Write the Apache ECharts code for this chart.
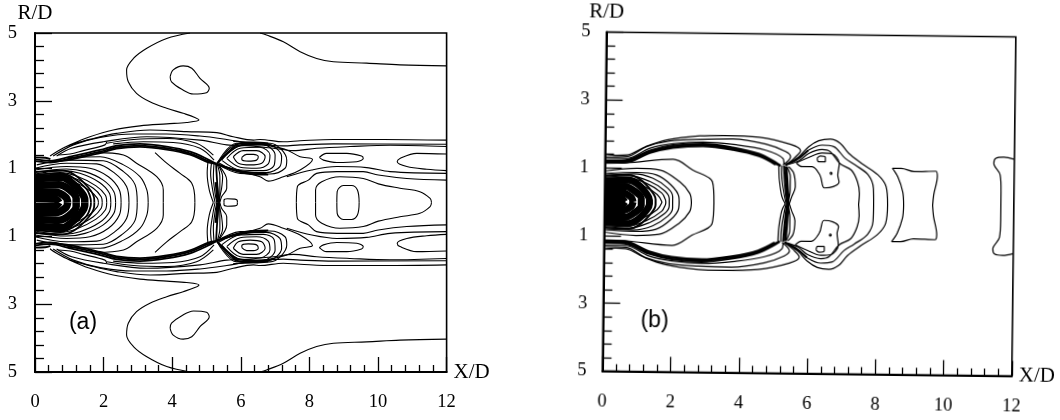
<!DOCTYPE html>
<html><head><meta charset="utf-8">
<script src="https://cdn.jsdelivr.net/npm/echarts@6/dist/echarts.min.js"></script>
<style>html,body{margin:0;padding:0;background:#fff;overflow:hidden}
#a{position:absolute;left:0;top:0;width:530px;height:420px}
#b{position:absolute;left:530px;top:0;width:530px;height:420px;transform-origin:281px 204px;transform:rotate(0.68deg)}
</style></head><body><div id="a"></div><div id="b"></div>
<script>
const xTicksNote = 'X/D', yTicksNote = 'R/D';
// Each contour: upper half [X/D, R/D]; lower half of the plot is the mirror image.
const leftThin = [
 [[6.56,5],[6.75,4.94],[7.24,4.74],[7.73,4.45],[8.21,4.25],[8.70,4.15],[9.67,4.11],[10.64,4.06],[12,4.03]],
 [[4.52,5],[3.84,4.84],[3.26,4.55],[2.87,4.25],[2.67,3.91],[2.72,3.56],[2.96,3.22],[3.35,2.97],[3.84,2.78],[4.32,2.63],[4.66,2.51],[4.78,2.43],[4.42,2.36],[3.84,2.32],[3.06,2.26],[2.28,2.14],[1.60,1.94],[1.02,1.70],[0.63,1.50],[0.44,1.37],[0.92,1.65],[1.70,1.89],[2.38,2.04],[3.35,2.14],[4.42,2.09],[5.30,2.06],[5.78,1.94],[6.37,1.84],[6.56,1.86],[7.24,1.79],[7.73,1.82],[8.70,1.86],[10.16,1.86],[12,1.84]],
 [[3.94,3.71],[4.03,3.91],[4.32,4.03],[4.57,3.96],[4.81,3.66],[5.08,3.37],[5.00,3.24],[4.62,3.20],[4.28,3.34],[3.98,3.56],[3.94,3.71]],
 [[0.53,1.37],[1.12,1.70],[1.90,1.92],[2.87,2.02],[3.84,2.02],[4.81,1.96],[5.59,1.86],[6.27,1.75],[7.24,1.67],[7.73,1.70],[8.70,1.73],[12,1.72]],
 [[0.63,1.37],[1.07,1.60],[1.99,1.79],[3.26,1.94],[4.81,1.84],[5.59,1.70],[6.27,1.67],[6.95,1.60],[7.53,1.53],[8.21,1.60],[9.18,1.65],[10.35,1.69],[12,1.65]],
 [[0.68,1.40],[1.02,1.43],[1.41,1.53],[2.04,1.70],[2.09,1.79]],
 [[2.09,1.75],[2.87,1.86],[3.84,1.89],[4.71,1.75],[5.20,1.40]],
 [[2.28,1.73],[3.16,1.79],[4.03,1.77],[4.81,1.60],[5.22,1.25]],
 [[3.50,1.47],[3.84,1.16],[4.23,0.86],[4.57,0.57],[4.66,0.07],[4.66,0]],
 [[1.80,1.47],[2.58,1.40],[2.96,1.16],[3.55,0.76],[3.74,0.37],[3.74,0]],
 [[0.92,1.32],[1.90,1.35],[2.58,1.11],[3.06,0.76],[3.26,0.37],[3.30,0]],
 [[0.05,1.11],[0.92,1.25],[1.99,1.23],[2.58,0.91],[2.92,0.52],[2.98,0]],
 [[0,1.01],[0.92,1.16],[1.80,1.14],[2.33,0.86],[2.67,0.47],[2.74,0]],
 [[0,0.96],[0.92,1.06],[1.60,1.01],[2.14,0.76],[2.46,0.37],[2.51,0]],
 [[0,0.89],[0.92,0.99],[1.46,0.91],[1.99,0.66],[2.30,0.32],[2.35,0]],
 [[0,0.84],[0.83,0.94],[1.31,0.86],[1.88,0.59],[2.17,0.27],[2.21,0]],
 [[0,0.78],[0.73,0.88],[1.21,0.78],[1.78,0.49],[2.05,0.22],[2.09,0]],
 [[0,0.73],[0.63,0.81],[1.17,0.71],[1.70,0.42],[1.93,0.17],[1.96,0]],
 [[0,0.66],[0.53,0.74],[1.12,0.61],[1.60,0.35],[1.82,0.12],[1.85,0]],
 [[5.05,1.27],[5.02,0.86],[5.08,0.37],[5.20,0]],
 [[5.15,1.20],[5.12,0.86],[5.18,0.37],[5.25,0]],
 [[5.22,1.16],[5.20,0.76],[5.25,0.27],[5.30,0]],
 [[5.32,1.11],[5.39,0.76],[5.39,0.37],[5.37,0]],
 [[5.34,1.11],[5.47,0.76],[5.44,0.42],[5.39,0.17],[5.37,0]],
 [[5.39,1.06],[5.59,0.66],[5.59,0.42],[5.44,0.17],[5.39,0]],
 [[5.51,0],[5.51,0.07],[5.61,0.11],[5.83,0.10],[5.90,0.05],[5.90,0]],
 [[6.03,1.33],[6.17,1.42],[6.37,1.42],[6.51,1.35],[6.46,1.25],[6.22,1.22],[6.03,1.27],[6.03,1.33]],
 [[5.78,1.35],[6.07,1.53],[6.46,1.53],[6.71,1.35],[6.61,1.16],[6.27,1.11],[5.93,1.16],[5.78,1.35]],
 [[5.59,1.30],[5.98,1.60],[6.56,1.63],[6.85,1.40],[6.80,1.14],[6.46,1.01],[5.98,1.04],[5.59,1.30]],
 [[5.44,1.25],[5.98,1.67],[6.66,1.70],[7.00,1.40],[6.97,1.09],[6.66,0.94],[5.98,0.96],[5.44,1.25]],
 [[5.34,1.18],[5.93,1.73],[6.75,1.73],[7.19,1.35],[7.14,1.06],[6.75,0.88],[5.98,0.91],[5.34,1.18]],
 [[5.30,1.14],[5.88,1.75],[6.85,1.75],[7.34,1.25],[7.29,1.01],[6.85,0.84],[5.98,0.86],[5.30,1.14]],
 [[5.30,1.11],[6.56,0.76],[6.80,0.63],[7.24,0.76],[7.73,0.96],[8.09,1.27],[7.73,1.35],[7.34,1.55],[6.85,1.67],[6.37,1.77],[5.78,1.80]],
 [[8.29,1.33],[8.50,1.45],[9.09,1.45],[9.52,1.37],[9.57,1.30],[9.38,1.20],[8.80,1.18],[8.41,1.25],[8.29,1.33]],
 [[12,1.43],[11.13,1.45],[10.64,1.30],[10.56,1.20],[10.84,1.06],[11.42,0.98],[12,0.94]],
 [[7.34,0.76],[8.07,0.96],[8.80,1.06],[9.67,1.03],[10.35,0.91],[12,0.86]],
 [[7.62,0],[7.65,0.47],[7.97,0.66],[8.21,0.86],[8.80,0.91],[9.57,0.91],[10.01,0.81],[10.84,0.71],[12,0.66]],
 [[8.18,0],[8.18,0.37],[8.36,0.61],[8.89,0.76],[9.57,0.71],[10.01,0.55],[10.64,0.42],[11.22,0.32],[11.52,0.12],[11.56,0]],
 [[8.80,0],[8.81,0.32],[8.99,0.50],[9.23,0.50],[9.40,0.37],[9.45,0]]
];
const leftThick = [
 [[0,1.33],[0.30,1.32],[0.45,1.28]],
 [[0,1.27],[0.44,1.23],[1.02,1.35],[1.90,1.55],[2.38,1.68],[3.06,1.73],[3.84,1.65],[4.52,1.50],[5.05,1.27],[5.28,1.14]],
 [[0,1.22],[0.44,1.18],[1.02,1.30],[1.90,1.50],[2.38,1.63],[3.06,1.68],[3.84,1.60],[4.52,1.45],[5.05,1.22],[5.28,1.14]],
 [[0.5,1.20],[1.02,1.26],[1.90,1.46],[2.38,1.59],[3.06,1.64],[3.84,1.56],[4.52,1.41],[5.05,1.18],[5.28,1.14]],
 [[5.28,1.14],[5.30,0.76],[5.33,0.32],[5.35,0]],
 [[5.3,1.14],[5.6,1.45],[5.95,1.68],[6.4,1.72],[6.85,1.70]],
 [[5.3,1.14],[5.65,1.5],[5.95,1.74],[6.4,1.77],[6.8,1.74]],
 [[5.3,1.14],[5.8,0.95],[6.3,0.84],[6.8,0.82]],
 [[5.32,1.12],[5.8,0.98],[6.3,0.88],[6.75,0.86]],
 [[0,0.90],[0.80,0.94],[1.15,0.82],[1.55,0.45],[1.72,0.15],[1.73,0]],
 [[0,0.82],[0.75,0.86],[1.10,0.74],[1.50,0.40],[1.62,0.12],[1.63,0]]
];
const leftDense = [
 [[5.28,0.60],[5.31,0.30],[5.33,0]],
 [[0,0.70],[0.80,0.74],[1.05,0.60],[1.35,0.30],[1.45,0.08],[1.45,0]],
 [[0,0.50],[0.70,0.52],[1.00,0.38],[1.20,0.12],[1.20,0]],
 [[0,0.30],[0.60,0.30],[0.90,0.15],[0.95,0]],
 [[0,0.12],[0.60,0.10],[0.70,0]]
];
const rightThin = [
 [[0,1.40],[0.35,1.37],[0.64,1.38],[1.18,1.63],[1.81,1.84],[2.78,1.97],[3.45,1.99],[4.52,1.95],[5.44,1.75],[5.73,1.57],[5.54,1.34],[5.29,1.14]],
 [[0,1.32],[0.64,1.34],[1.23,1.64],[1.90,1.81],[2.78,1.87],[3.75,1.89],[4.71,1.75],[5.29,1.54],[5.44,1.39],[5.22,1.14]],
 [[0,1.29],[0.64,1.29],[1.32,1.59],[1.99,1.73],[2.87,1.79],[3.84,1.72],[4.71,1.57],[5.22,1.33],[5.25,1.14]],
 [[0,1.13],[0.64,1.15],[2.0,1.27],[2.58,0.96],[3.16,0.62],[3.21,0]],
 [[0,0.90],[0.94,0.99],[1.61,0.95],[2.2,0.61],[2.5,0.27],[2.55,0]],
 [[0,0.83],[0.94,0.87],[1.52,0.80],[1.95,0.51],[2.18,0.17],[2.19,0]],
 [[0,0.78],[0.85,0.83],[1.42,0.70],[1.86,0.41],[2.0,0.17],[2.0,0]],
 [[0,0.73],[0.74,0.77],[1.32,0.61],[1.76,0.34],[1.90,0.11],[1.90,0]],
 [[0,0.68],[0.65,0.72],[1.23,0.55],[1.68,0.27],[1.79,0.07],[1.80,0]],
 [[0,0.62],[0.6,0.66],[1.14,0.47],[1.55,0.22],[1.69,0]],
 [[5.10,1.12],[5.12,0.70],[5.2,0.21],[5.3,0]],
 [[5.18,1.12],[5.2,0.70],[5.28,0.21],[5.33,0]],
 [[5.34,1.09],[5.44,0.80],[5.44,0.40],[5.37,0]],
 [[5.39,1.09],[5.54,0.90],[5.59,0.50],[5.49,0.21],[5.42,0]],
 [[5.29,1.14],[5.68,1.39],[5.97,1.69],[6.26,1.87],[6.60,1.92],[6.89,1.80],[7.14,1.51],[7.52,1.22],[8.01,0.88],[8.25,0.54],[8.30,0]],
 [[5.29,1.14],[5.68,1.34],[5.97,1.59],[6.36,1.74],[6.70,1.70],[7.04,1.36],[7.33,1.17],[7.72,0.88],[7.88,0.48],[7.89,0]],
 [[5.29,1.14],[5.68,1.27],[5.97,1.49],[6.36,1.61],[6.60,1.55],[6.89,1.20],[7.23,1.01],[7.41,0.67],[7.47,0.33],[7.45,0]],
 [[5.61,1.21],[5.78,1.10],[6.07,1.10],[6.31,0.85],[6.44,0.48],[6.70,0.52],[6.87,0.66],[6.83,0.86],[6.87,1.20],[6.65,1.49],[6.36,1.51],[5.97,1.37],[5.61,1.21]],
 [[6.22,1.35],[6.31,1.42],[6.46,1.38],[6.46,1.25],[6.26,1.25],[6.22,1.35]],
 [[6.60,0.91],[6.63,0.94],[6.66,0.91],[6.63,0.88],[6.60,0.91]],
 [[8.77,0],[8.74,0.39],[8.59,0.83],[8.43,1.08],[8.69,1.08],[9.07,0.99],[9.70,1.01],[9.75,0.86],[9.65,0.32],[9.62,0]],
 [[12,1.39],[11.69,1.45],[11.45,1.41],[11.40,1.26],[11.59,0.92],[11.62,0.43],[11.62,0]]
];
const rightThick = [
 [[0,1.22],[0.6,1.23],[1.32,1.52],[1.99,1.68],[2.87,1.74],[3.75,1.64],[4.52,1.46],[5.0,1.22],[5.15,1.12]],
 [[0,1.18],[0.6,1.19],[1.32,1.48],[1.99,1.64],[2.87,1.70],[3.75,1.60],[4.52,1.42],[5.0,1.18],[5.15,1.12]],
 [[0,1.15],[0.6,1.16],[1.32,1.45],[1.99,1.61],[2.87,1.67],[3.75,1.57],[4.52,1.39],[5.0,1.15]],
 [[5.25,1.12],[5.28,0.70],[5.33,0.21],[5.37,0]],
 [[5.29,1.14],[5.65,1.33],[5.95,1.58]],
 [[0,0.77],[0.70,0.80],[1.05,0.66],[1.38,0.32],[1.50,0.08],[1.50,0]]
];
const rightDense = [
 [[5.31,1.10],[5.34,0.70],[5.37,0.21],[5.38,0]],
 [[0,0.62],[0.70,0.64],[1.00,0.50],[1.25,0.22],[1.32,0.06],[1.32,0]],
 [[0,0.44],[0.60,0.46],[0.88,0.32],[1.08,0.10],[1.08,0]],
 [[0,0.27],[0.50,0.27],[0.78,0.14],[0.84,0]],
 [[0,0.10],[0.50,0.09],[0.60,0]]
];
const xLabelStep = 2, yLabelStep = 2, minorParts = 5;
const INK = '#000';

function seriesOf(groups) {
  const out = [];
  groups.forEach(([list, width]) => list.forEach((c, i) => [1, -1].forEach(s => out.push({
    type: 'line', silent: true, showSymbol: false, symbol: 'none', smooth: 0.35, clip: true,
    animation: false, lineStyle: { color: INK, width: (width > 3 && i === 0) ? 3 : width },
    data: c.map(p => [p[0], 5 + s * p[1]])
  }))));
  return out;
}
function panel(el, gridBox, groups, tag, tagPos, yMargin) {
  const chart = echarts.init(document.getElementById(el), null, { renderer: 'canvas' });
  const font = { fontFamily: 'Liberation Serif', color: INK, fontSize: 18.5 };
  chart.setOption({
    animation: false, backgroundColor: 'transparent',
    grid: Object.assign({ show: true, borderColor: INK, borderWidth: 1.6, containLabel: false }, gridBox),
    xAxis: {
      type: 'value', min: 0, max: 12, interval: xLabelStep, name: xTicksNote, nameLocation: 'end', nameGap: 7,
      nameTextStyle: Object.assign({}, font, { fontSize: 21, padding: [0, 0, 12, 0] }),
      axisLine: { show: true, onZero: false, lineStyle: { color: INK, width: 2 } },
      axisTick: { inside: true, length: 15, lineStyle: { color: INK, width: 1.3 } },
      minorTick: { show: true, splitNumber: minorParts, length: 7, lineStyle: { color: INK, width: 1.3 } },
      splitLine: { show: false }, minorSplitLine: { show: false },
      axisLabel: Object.assign({ margin: 21, showMinLabel: true, showMaxLabel: true }, font)
    },
    yAxis: {
      type: 'value', min: 0, max: 10, interval: yLabelStep, name: yTicksNote, nameLocation: 'end', nameGap: 4,
      nameTextStyle: Object.assign({}, font, { fontSize: 21 }),
      axisLine: { show: true, onZero: false, lineStyle: { color: INK, width: 2 } },
      axisTick: { inside: true, length: 17, lineStyle: { color: INK, width: 1.3 } },
      minorTick: { show: true, splitNumber: minorParts, length: 9, lineStyle: { color: INK, width: 1.3 } },
      splitLine: { show: false }, minorSplitLine: { show: false },
      axisLabel: Object.assign({ margin: yMargin, showMinLabel: true, showMaxLabel: true, formatter: v => String(Math.abs(v - 5)) }, font)
    },
    graphic: [{ type: 'text', x: tagPos[0], y: tagPos[1], silent: true,
      style: { text: tag, font: '23px "Liberation Sans"', fill: INK, align: 'center', verticalAlign: 'middle' } }],
    series: seriesOf(groups)
  });
}
panel('a', { left: 35, top: 33, width: 411.6, height: 339 },
  [[leftThin, 1.1], [leftThick, 1.8], [leftDense, 7.5]], '(a)', [83, 323], 18);
panel('b', { left: 74.4, top: 34.5, width: 413.2, height: 339 },
  [[rightThin, 1.2], [rightThick, 2], [rightDense, 7]], '(b)', [126, 323], 16);
</script></body></html>
